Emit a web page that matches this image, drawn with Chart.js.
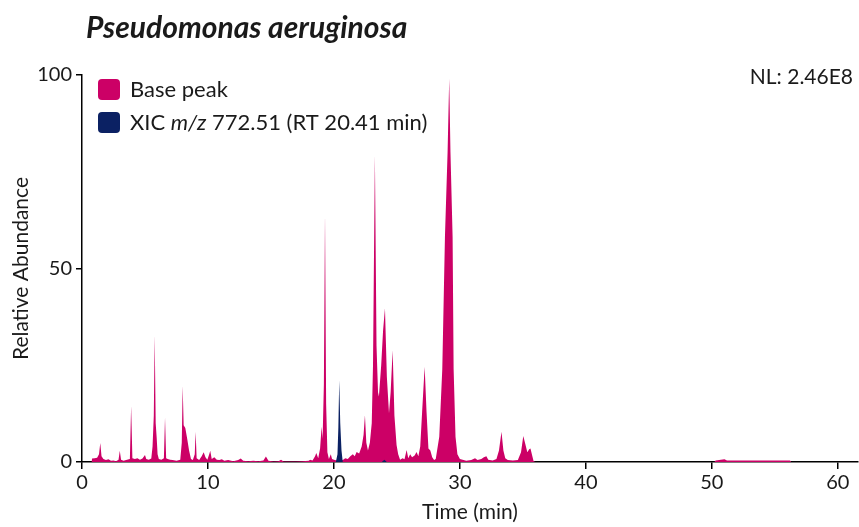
<!DOCTYPE html>
<html>
<head>
<meta charset="utf-8">
<script src="https://cdn.jsdelivr.net/npm/chart.js@4.4.1/dist/chart.umd.min.js"></script>
<style>
  html, body { margin: 0; padding: 0; background: #fff; }
  #wrap { width: 859px; height: 527px; }
</style>
</head>
<body>
<div id="wrap"><canvas id="chart" width="859" height="527"></canvas></div>
<script>
// === DATA ===
const chartTitle = "Pseudomonas aeruginosa";
const xTicks = [0, 10, 20, 30, 40, 50, 60];
const yTicks = [0, 50, 100];

// base peak chromatogram (time in min, relative abundance)
const basePeakTime = [
  0.75, 0.8, 1.0, 1.2, 1.35, 1.45, 1.55, 1.7, 1.9, 2.1, 2.3, 2.5, 2.7, 2.9, 3.0, 3.1, 3.3, 3.5, 3.8, 3.9, 4.0, 4.2, 4.4, 4.6, 4.8, 5.0,
  5.1, 5.3, 5.5, 5.6, 5.7, 5.77, 5.85, 5.93, 6.0, 6.1, 6.3, 6.5, 6.59, 6.68, 6.8, 7.0, 7.2, 7.5, 7.8, 7.92, 7.99, 8.07, 8.2, 8.35, 8.5, 8.65, 8.8, 8.95, 9.02, 9.1, 9.3, 9.5, 9.66, 9.8, 9.95,
  10.1, 10.18, 10.3, 10.5, 10.7, 10.9, 11.1, 11.3, 11.6, 12.0, 12.4, 12.6, 12.8, 13.2, 13.6, 14.0, 14.4, 14.6, 14.8, 15.2, 15.6, 15.8, 16.0, 16.5, 17.0, 17.5, 18.0, 18.1, 18.3, 18.5, 18.6, 18.75, 18.9,
  19.02, 19.1, 19.2, 19.29, 19.38, 19.48, 19.6, 19.75, 19.85, 20.0, 20.3, 20.7, 20.9, 21.1, 21.3, 21.5, 21.65, 21.8, 22.0, 22.2, 22.35, 22.46, 22.57, 22.7, 22.85, 23.0, 23.1, 23.25, 23.38, 23.5, 23.57, 23.75, 23.9, 24.05, 24.2, 24.37, 24.5, 24.66, 24.8, 24.97, 25.1, 25.25, 25.45, 25.6, 25.77, 25.9,
  26.05, 26.2, 26.4, 26.56, 26.7, 26.85, 27.0, 27.2, 27.35, 27.5, 27.65, 27.8, 27.95, 28.08, 28.36, 28.6, 28.81, 29.02, 29.15, 29.25, 29.42, 29.5, 29.65, 29.8, 30.0, 30.5, 30.9, 31.2, 31.4, 31.7, 31.9, 32.1, 32.25, 32.6, 32.9, 33.1, 33.3, 33.45, 33.6, 33.8, 34.2, 34.6, 34.85, 35.03, 35.2, 35.35, 35.5, 35.6, 35.75, 35.85, 36.0,
  50.2, 50.3, 51.0, 51.2, 53.0, 56.2, 56.3
];
const basePeakAbund = [
  0, 0.9, 1.0, 1.1, 2.0, 4.9, 1.5, 0.8, 0.5, 0.7, 0.3, 0.4, 0.2, 0.6, 2.9, 0.6, 0.3, 0.5, 0.8, 14.5, 1.0, 0.8, 1.0, 0.6, 0.9, 1.8,
  0.8, 0.6, 0.9, 4.0, 12, 32.8, 10, 6.2, 2.0, 0.8, 0.6, 1.0, 11.5, 1.0, 0.8, 0.6, 0.5, 0.3, 0.6, 5, 19.7, 9.5, 8.8, 6, 3, 0.8, 0.5, 2, 7.8, 1, 0.5, 1.5, 2.5, 1.2, 0.6,
  2.0, 2.9, 0.8, 1.2, 0.6, 0.5, 0.7, 0.3, 0.5, 0.2, 0.5, 0.9, 0.3, 0.2, 0.3, 0.2, 0.4, 1.4, 0.3, 0.1, 0.2, 0.6, 0.1, 0.1, 0.1, 0.2, 0.3, 0.6, 0.4, 1.5, 2.3, 1.0, 3.5,
  9.1, 6, 20, 64.3, 15, 2.5, 0.8, 2.0, 0.8, 0.6, 0.3, 0.5, 1.0, 0.8, 1.5, 2.0, 1.5, 2.6, 2.2, 4, 7, 12.1, 5, 3, 5, 10, 25, 79.3, 30, 18, 16.9, 25, 34, 39.7, 22, 12.6, 18, 28.9, 12, 4.4, 2, 0.6, 1.0, 0.7, 3.1, 1.0,
  2.0, 1.2, 1.7, 2.6, 1.5, 4, 13, 24.6, 13, 3.5, 3, 1.2, 0.5, 0.8, 6.5, 24, 58, 80, 99.1, 80, 58, 24, 6.5, 2, 0.8, 0.3, 0.5, 1.0, 0.5, 0.8, 1.2, 1.5, 0.6, 0.4, 0.8, 3, 7.8, 3, 1, 0.5, 0.4, 0.5, 2.5, 6.7, 4.5, 2.5, 3.3, 3.5, 1.5, 0.2, 0,
  0, 0.4, 0.7, 0.4, 0.4, 0.4, 0
];

// XIC m/z 772.51
const xicTime = [20.15, 20.28, 20.35, 20.42, 20.5, 20.6, 20.7, 23.8, 24.0, 24.2];
const xicAbund = [0, 2, 9, 21.1, 10, 3, 0, 0, 0.6, 0];

const pink = "#CC0066";
const navy = "#0B2163";
const textColor = "#1a1a1a";

function toPoints(xs, ys) {
  return xs.map((x, i) => ({ x: x, y: ys[i] }));
}

// === Title, legend and NL label drawn on the canvas ===
const annotations = {
  id: "annotations",
  afterDraw(chart) {
    const ctx = chart.ctx;
    ctx.save();
    ctx.fillStyle = textColor;
    ctx.textBaseline = "middle";
    ctx.textAlign = "left";

    // title
    ctx.font = "italic bold 30px Lato";
    ctx.fillText(chartTitle, 86, 28);

    // legend
    ctx.fillStyle = pink;
    ctx.beginPath();
    ctx.roundRect(98, 79, 22, 21, 4);
    ctx.fill();
    ctx.fillStyle = navy;
    ctx.beginPath();
    ctx.roundRect(98, 112, 22, 21, 4);
    ctx.fill();

    ctx.fillStyle = textColor;
    ctx.font = "22px Lato";
    ctx.fillText("Base peak", 130, 90);

    let x = 130;
    const parts = [["XIC ", "22px Lato"], ["m/z", "italic 22px Lato"], [" 772.51 (RT 20.41 min)", "22px Lato"]];
    parts.forEach(([txt, font]) => {
      ctx.font = font;
      ctx.fillText(txt, x, 123);
      x += ctx.measureText(txt).width;
    });

    // NL
    ctx.font = "21px Lato";
    ctx.textAlign = "right";
    ctx.fillText("NL: 2.46E8", 853, 77);
    ctx.restore();
  }
};

Chart.defaults.font.family = "Lato";
Chart.defaults.color = textColor;

const ctx = document.getElementById("chart").getContext("2d");
const chart = new Chart(ctx, {
  type: "line",
  data: {
    datasets: [
      {
        label: "XIC m/z 772.51 (RT 20.41 min)",
        data: toPoints(xicTime, xicAbund),
        backgroundColor: navy,
        borderColor: "transparent",
        borderWidth: 0,
        fill: "origin",
        pointRadius: 0,
        tension: 0,
        order: 0
      },
      {
        label: "Base peak",
        data: toPoints(basePeakTime, basePeakAbund),
        backgroundColor: pink,
        borderColor: "transparent",
        borderWidth: 0,
        fill: "origin",
        pointRadius: 0,
        tension: 0,
        order: 1
      }
    ]
  },
  options: {
    responsive: false,
    animation: false,
    devicePixelRatio: 1,
    layout: { padding: { top: 75, right: 1, left: 0, bottom: 0 } },
    plugins: {
      legend: { display: false },
      title: { display: false },
      tooltip: { enabled: false }
    },
    scales: {
      x: {
        type: "linear",
        min: 0,
        max: 61.6,
        z: 1,
        afterBuildTicks: (s) => { s.ticks = xTicks.map((v) => ({ value: v })); },
        afterFit: (s) => { s.height = 65; },
        ticks: { font: { size: 20 }, color: textColor, padding: 2, maxRotation: 0, autoSkip: false },
        grid: { drawOnChartArea: false, drawTicks: true, tickLength: 7, color: "#000", lineWidth: 1.5 },
        border: { color: "#000", width: 1.5 },
        title: { display: true, text: "Time (min)", font: { size: 21 }, color: textColor, padding: { top: 0, bottom: 2 } }
      },
      y: {
        type: "linear",
        min: 0,
        max: 100,
        z: 1,
        afterBuildTicks: (s) => { s.ticks = yTicks.map((v) => ({ value: v })); },
        afterFit: (s) => { s.width = 82; },
        ticks: { font: { size: 20 }, color: textColor, padding: 4 },
        grid: { drawOnChartArea: false, drawTicks: true, tickLength: 6, color: "#000", lineWidth: 1.5 },
        border: { color: "#000", width: 1.5 },
        title: { display: true, text: "Relative Abundance", font: { size: 21 }, color: textColor, padding: { top: 9, bottom: 0 } }
      }
    }
  },
  plugins: [annotations]
});
</script>
</body>
</html>
